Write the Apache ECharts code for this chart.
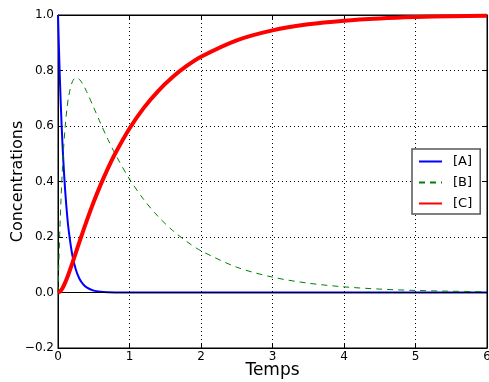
<!DOCTYPE html>
<html><head><meta charset="utf-8">
<script src="https://cdn.jsdelivr.net/npm/echarts@6/dist/echarts.min.js"></script>
<style>html,body{margin:0;padding:0;background:#fff}#c{width:489px;height:382px}</style>
</head><body><div id="c"></div>
<script>
const times = [0,0.025,0.05,0.075,0.1,0.125,0.15,0.2,0.25,0.3,0.35,0.4,0.5,0.6,0.7,0.8,1.0,1.2,1.4,1.6,1.8,2.0,2.5,3,3.5,4,4.5,5,5.5,6];
const seriesA = [1,0.7788,0.6065,0.4724,0.3679,0.2865,0.2231,0.1353,0.0821,0.0498,0.0302,0.0183,0.0067,0.0025,0.0009,0.0003,0,0,0,0,0,0,0,0,0,0,0,0,0,0];
const seriesB = [0,0.2183,0.3830,0.5059,0.5966,0.6622,0.7084,0.7593,0.7741,0.7678,0.7494,0.7244,0.6664,0.6070,0.5508,0.4989,0.4088,0.3347,0.2740,0.2243,0.1837,0.1503,0.0912,0.0553,0.0336,0.0203,0.0123,0.0074,0.0046,0.0028];
const seriesC = [0,0.0029,0.0105,0.0217,0.0355,0.0513,0.0685,0.1054,0.1438,0.1824,0.2204,0.2573,0.3269,0.3905,0.4483,0.5008,0.5912,0.6653,0.7260,0.7757,0.8163,0.8497,0.9088,0.9447,0.9664,0.9797,0.9877,0.9926,0.9954,0.9972];
const names = ['[A]','[B]','[C]'];
const xTicks = [0,1,2,3,4,5,6];
const yTicks = [-0.2,0.0,0.2,0.4,0.6,0.8,1.0];

const pair = arr => times.map((t,i)=>[t,arr[i]]);
const font = 'DejaVu Sans';
const chart = echarts.init(document.getElementById('c'));
const fmtY = v => (v < -1e-9 ? '\u2212' : '') + Math.abs(v).toFixed(1);
const tickCommon = {show:true, inside:true, length:4, lineStyle:{color:'#000'}};
chart.setOption({
  animation:false,
  textStyle:{fontFamily:font},
  grid:{left:58, right:2, top:15, bottom:34, containLabel:false, outerBoundsMode:'none',
        show:true, borderColor:'#000', borderWidth:1},
  xAxis:[{
    type:'value', min:xTicks[0], max:xTicks[xTicks.length-1], interval:1,
    name:'Temps', nameLocation:'middle', nameGap:14, nameMoveOverlap:false,
    nameTextStyle:{fontSize:17, color:'#000', fontFamily:font},
    axisLine:{show:true, onZero:false, lineStyle:{color:'#000'}},
    axisTick:tickCommon,
    axisLabel:{color:'#000', fontSize:12, margin:3, fontFamily:font},
    splitLine:{show:true, lineStyle:{color:'#000', type:[1,3], width:1}}
  },{
    type:'value', position:'top', min:0, max:6, interval:1,
    axisLine:{show:true, onZero:false, lineStyle:{color:'#000'}},
    axisTick:tickCommon, axisLabel:{show:false}, splitLine:{show:false}
  }],
  yAxis:[{
    type:'value', min:yTicks[0], max:yTicks[yTicks.length-1], interval:0.2,
    name:'Concentrations', nameLocation:'middle', nameGap:32, nameRotate:90, nameMoveOverlap:false,
    nameTextStyle:{fontSize:16, color:'#000', fontFamily:font},
    axisLine:{show:true, onZero:false, lineStyle:{color:'#000'}},
    axisTick:tickCommon,
    axisLabel:{color:'#000', fontSize:12, margin:4, formatter:fmtY, fontFamily:font},
    splitLine:{show:true, lineStyle:{color:'#000', type:[1,3], width:1}}
  },{
    type:'value', position:'right', min:-0.2, max:1.0, interval:0.2,
    axisLine:{show:true, onZero:false, lineStyle:{color:'#000'}},
    axisTick:tickCommon, axisLabel:{show:false}, splitLine:{show:false}
  }],
  legend:{
    orient:'vertical', left:412, top:149, data:names,
    itemWidth:23, itemHeight:14, itemGap:6,
    padding:[5,8,3,6],
    itemStyle:{opacity:0},
    backgroundColor:'#fff', borderColor:'#555', borderWidth:1.5,
    textStyle:{fontSize:13, color:'#000', fontFamily:font, padding:[0,0,0,6], lineHeight:15}
  },
  series:[
    {name:'axhline', type:'line', data:[], z:1, symbol:'none',
     markLine:{silent:true, symbol:'none', label:{show:false},
       lineStyle:{color:'#000', type:'solid', width:1}, data:[{yAxis:0}]}},
    {name:names[0], type:'line', data:pair(seriesA), symbol:'none', smooth:0.3,
     lineStyle:{color:'#0000ff', width:2}, itemStyle:{color:'#0000ff'}, z:3},
    {name:names[1], type:'line', data:pair(seriesB), symbol:'none', smooth:0.3,
     lineStyle:{color:'#008000', width:1, type:[6,5]}, itemStyle:{color:'#008000'}, z:4},
    {name:names[2], type:'line', data:pair(seriesC), symbol:'none', smooth:0.3,
     lineStyle:{color:'#ff0000', width:4}, itemStyle:{color:'#ff0000'}, z:5}
  ]
});
</script></body></html>
